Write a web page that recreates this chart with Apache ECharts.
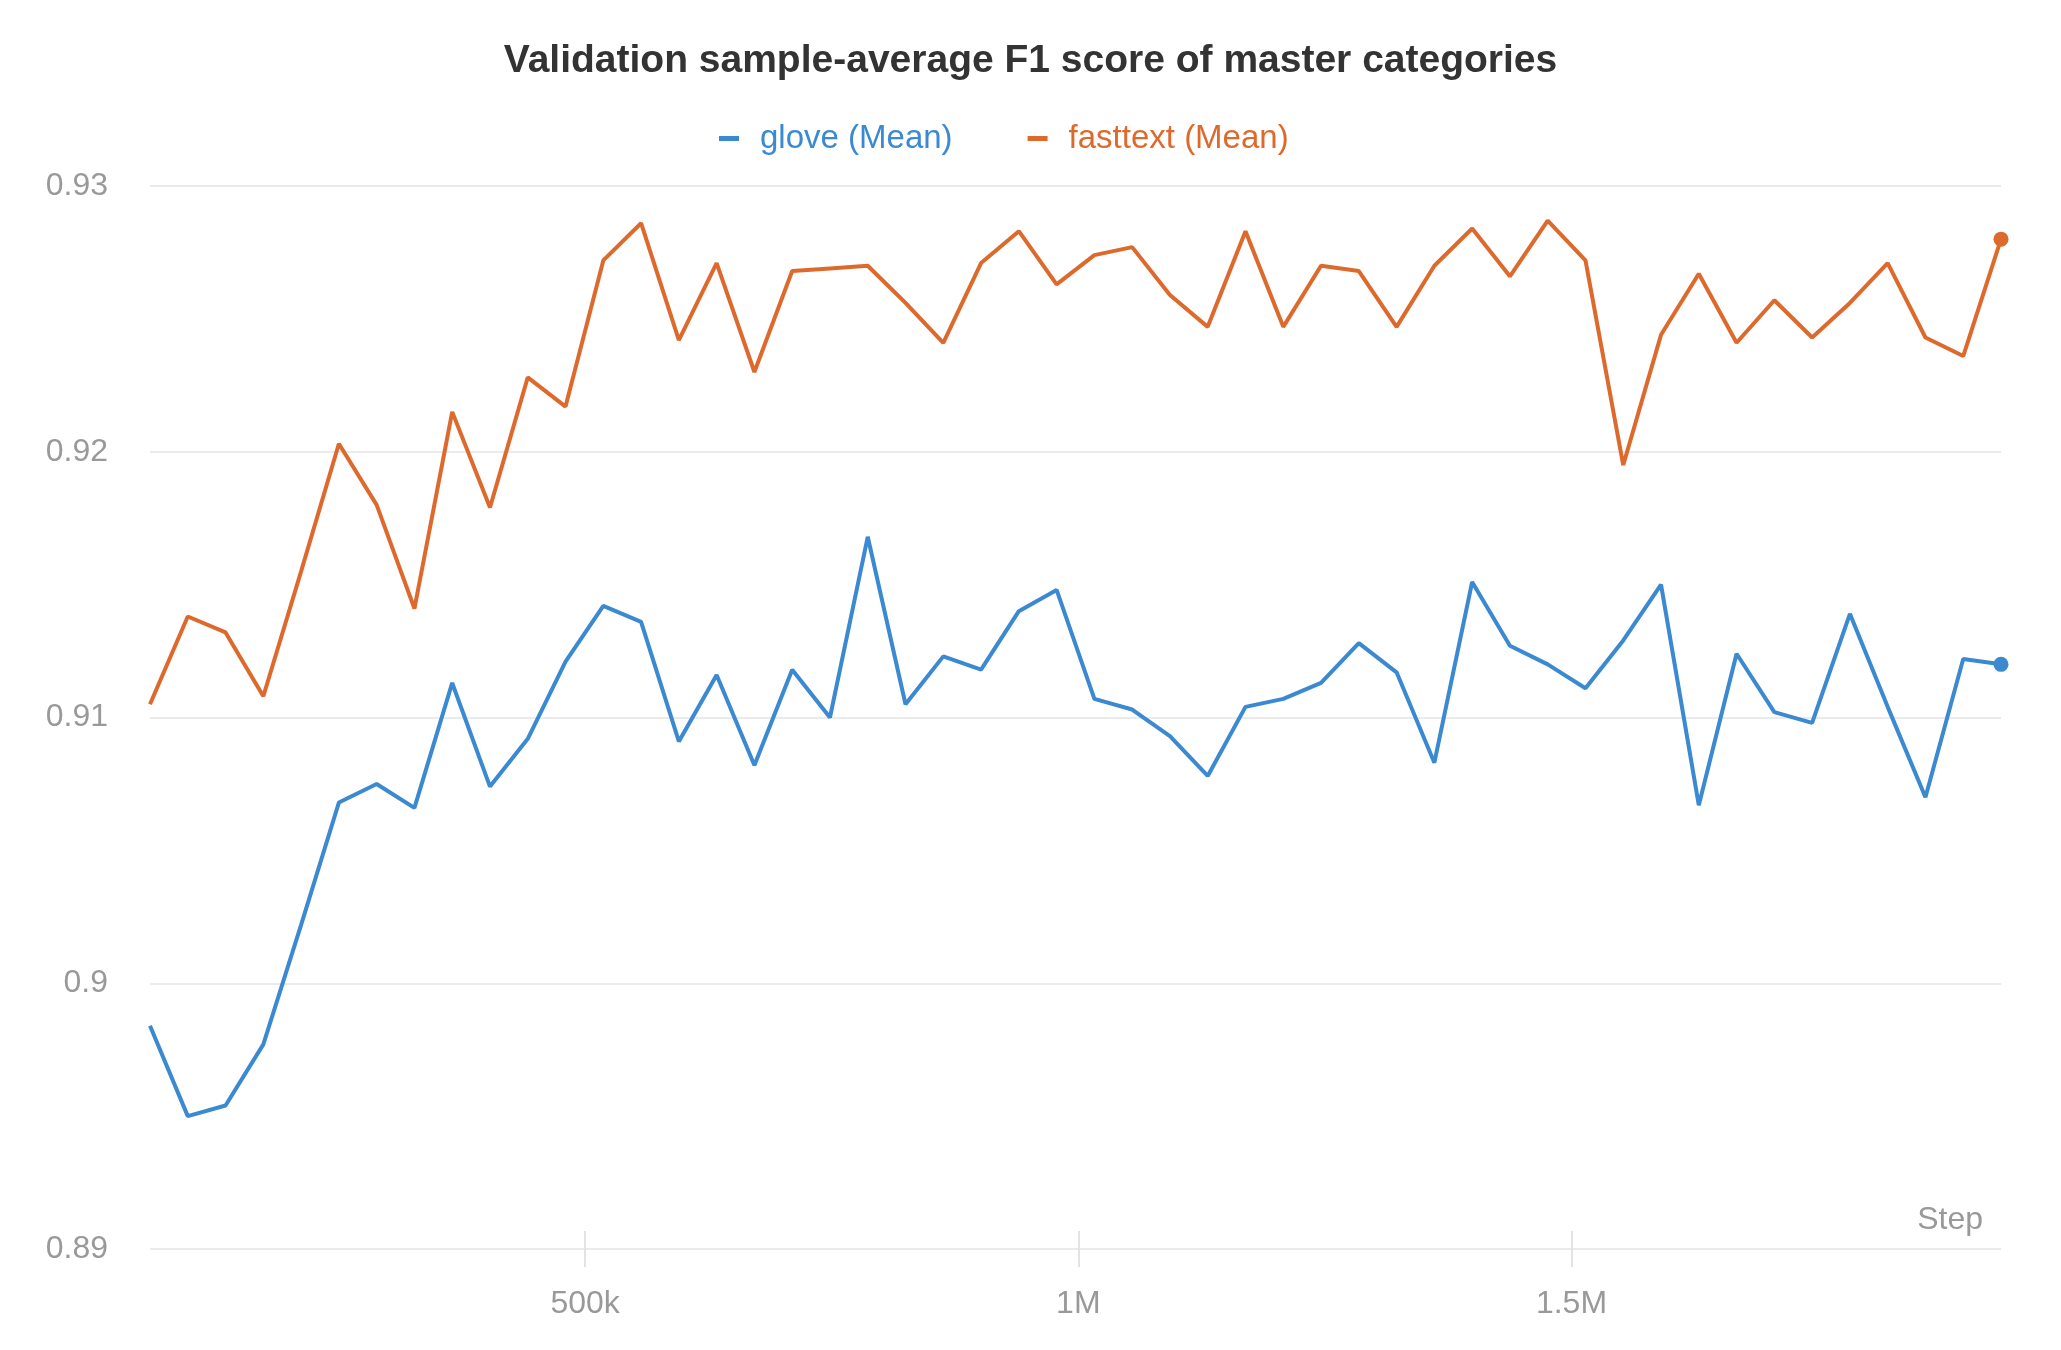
<!DOCTYPE html>
<html>
<head>
<meta charset="utf-8">
<script src="https://cdn.jsdelivr.net/npm/echarts@6/dist/echarts.min.js"></script>
<style>
html,body{margin:0;padding:0;background:#fff;}
#chart{width:2061px;height:1350px;}
</style>
</head>
<body>
<div id="chart"></div>
<script>
var steps = [58800, 97100, 135400, 173700, 212000, 250300, 288600, 326900, 365200, 403500,
  441800, 480100, 518400, 556700, 595000, 633300, 671600, 709900, 748200, 786500,
  824800, 863100, 901400, 939700, 978000, 1016300, 1054600, 1092900, 1131200, 1169500,
  1207800, 1246100, 1284400, 1322700, 1361000, 1399300, 1437600, 1475900, 1514200, 1552500,
  1590800, 1629100, 1667400, 1705700, 1744000, 1782300, 1820600, 1858900, 1897200, 1935500];

var glove = [0.8984, 0.8950, 0.8954, 0.8977, 0.9022, 0.9068, 0.9075, 0.9066, 0.9113, 0.9074,
  0.9092, 0.9121, 0.9142, 0.9136, 0.9091, 0.9116, 0.9082, 0.9118, 0.9100, 0.9168,
  0.9105, 0.9123, 0.9118, 0.9140, 0.9148, 0.9107, 0.9103, 0.9093, 0.9078, 0.9104,
  0.9107, 0.9113, 0.9128, 0.9117, 0.9083, 0.9151, 0.9127, 0.9120, 0.9111, 0.9129,
  0.9150, 0.9067, 0.9124, 0.9102, 0.9098, 0.9139, 0.9104, 0.9070, 0.9122, 0.9120];

var fasttext = [0.9105, 0.9138, 0.9132, 0.9108, 0.9155, 0.9203, 0.9180, 0.9141, 0.9215, 0.9179,
  0.9228, 0.9217, 0.9272, 0.9286, 0.9242, 0.9271, 0.9230, 0.9268, 0.9269, 0.9270,
  0.9256, 0.9241, 0.9271, 0.9283, 0.9263, 0.9274, 0.9277, 0.9259, 0.9247, 0.9283,
  0.9247, 0.9270, 0.9268, 0.9247, 0.9270, 0.9284, 0.9266, 0.9287, 0.9272, 0.9195,
  0.9244, 0.9267, 0.9241, 0.9257, 0.9243, 0.9256, 0.9271, 0.9243, 0.9236, 0.9280];

var xTicks = [500000, 1000000, 1500000];
var seriesNames = ['glove (Mean)', 'fasttext (Mean)'];
var colors = ['#3a89d1', '#dd6a2c'];

function pairs(ys) { return steps.map(function (s, i) { return [s, ys[i]]; }); }
function endDot(v, p) { return p.dataIndex === steps.length - 1 ? 15 : 0; }

var FONT = '"Liberation Sans", Arial, Helvetica, sans-serif';
var chart = echarts.init(document.getElementById('chart'), null, {renderer: 'canvas'});
chart.setOption({
  backgroundColor: '#ffffff',
  animation: false,
  title: {
    text: 'Validation sample-average F1 score of master categories',
    left: 'center', top: 37,
    textStyle: {fontFamily: FONT, fontSize: 39, fontWeight: 'bold', color: '#333333'}
  },
  legend: {
    top: 117, left: 714, itemGap: 75, itemWidth: 20, itemHeight: 5,
    icon: 'rect',
    textStyle: {fontFamily: FONT, fontSize: 33, padding: [0, 0, 0, 16]},
    data: [
      {name: seriesNames[0], textStyle: {color: colors[0]}},
      {name: seriesNames[1], textStyle: {color: colors[1]}}
    ]
  },
  grid: {left: 150, right: 60, top: 186, bottom: 101},
  xAxis: {
    type: 'value', min: steps[0], max: steps[steps.length - 1],
    offset: -18,
    axisLine: {show: false},
    splitLine: {show: false},
    axisTick: {show: true, length: 36, customValues: xTicks, lineStyle: {color: '#e3e3e3', width: 2}},
    axisLabel: {
      customValues: xTicks, margin: 57, color: '#999999', fontFamily: FONT, fontSize: 32,
      formatter: function (v) { return v >= 1000000 ? (v / 1000000) + 'M' : (v / 1000) + 'k'; }
    }
  },
  yAxis: {
    type: 'value', min: 0.89, max: 0.93, interval: 0.01,
    axisLine: {show: false}, axisTick: {show: false},
    splitLine: {lineStyle: {color: '#ebebeb', width: 2}},
    axisLabel: {margin: 42, color: '#999999', fontFamily: FONT, fontSize: 32,
      formatter: function (v) { return String(+v.toFixed(2)); }}
  },
  graphic: [{
    type: 'text', x: 1983, y: 1220,
    style: {text: 'Step', fontFamily: FONT, fontSize: 32, fill: '#999999', align: 'right', verticalAlign: 'middle'}
  }],
  series: [
    {name: seriesNames[0], type: 'line', data: pairs(glove), color: colors[0],
      symbol: 'circle', symbolSize: endDot, showAllSymbol: true,
      lineStyle: {width: 4, color: colors[0]}, itemStyle: {color: colors[0]}, z: 2},
    {name: seriesNames[1], type: 'line', data: pairs(fasttext), color: colors[1],
      symbol: 'circle', symbolSize: endDot, showAllSymbol: true,
      lineStyle: {width: 4, color: colors[1]}, itemStyle: {color: colors[1]}, z: 3}
  ]
});
</script>
</body>
</html>
